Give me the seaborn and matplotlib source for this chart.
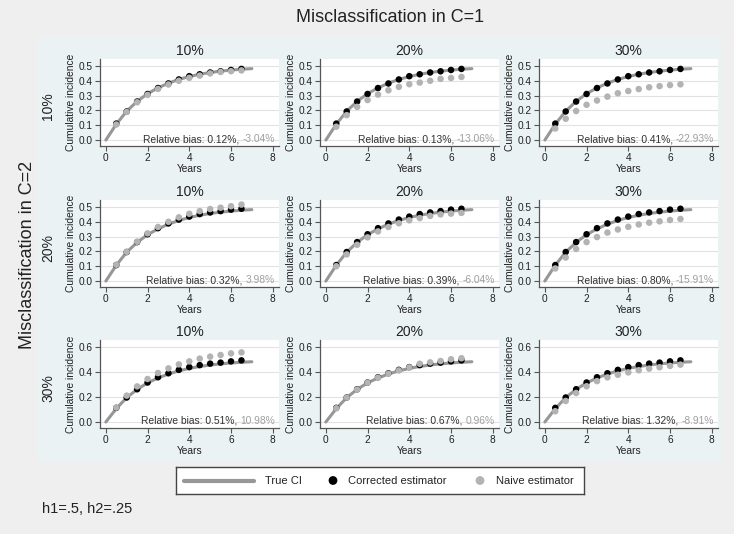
import matplotlib
matplotlib.use("Agg")
import matplotlib.pyplot as plt
import seaborn as sns
from matplotlib.patches import Rectangle

# ---- values ----
years_line = [0, 0.5, 1, 1.5, 2, 2.5, 3, 3.5, 4, 4.5, 5, 5.5, 6, 6.5, 7]
true_ci = [0.0, 0.107, 0.195, 0.261, 0.313, 0.352, 0.384, 0.409, 0.429,
           0.444, 0.456, 0.465, 0.472, 0.478, 0.482]

years_pts = [0.5, 1, 1.5, 2, 2.5, 3, 3.5, 4, 4.5, 5, 5.5, 6, 6.5]

# corrected estimator (black), one list per row of panels
corrected_r1 = [0.111, 0.193, 0.260, 0.311, 0.351, 0.382, 0.409, 0.431, 0.444, 0.456, 0.464, 0.473, 0.480]
corrected_r2 = [0.108, 0.196, 0.263, 0.316, 0.357, 0.389, 0.415, 0.435, 0.452, 0.463, 0.472, 0.482, 0.488]
corrected_r3 = [0.113, 0.196, 0.262, 0.316, 0.358, 0.390, 0.417, 0.439, 0.455, 0.467, 0.475, 0.485, 0.493]

# naive estimator (grey), one list per panel (row = C=2 level, col = C=1 level)
naive_10_10 = [0.105, 0.190, 0.255, 0.305, 0.345, 0.375, 0.400, 0.420, 0.435, 0.450, 0.460, 0.465, 0.470]
naive_10_20 = [0.090, 0.168, 0.224, 0.270, 0.307, 0.336, 0.359, 0.377, 0.388, 0.400, 0.413, 0.419, 0.426]
naive_10_30 = [0.078, 0.144, 0.196, 0.238, 0.267, 0.293, 0.316, 0.331, 0.344, 0.356, 0.364, 0.371, 0.376]
naive_20_10 = [0.110, 0.197, 0.265, 0.322, 0.365, 0.400, 0.430, 0.454, 0.472, 0.486, 0.495, 0.505, 0.516]
naive_20_20 = [0.100, 0.180, 0.245, 0.295, 0.335, 0.365, 0.390, 0.410, 0.425, 0.440, 0.450, 0.455, 0.460]
naive_20_30 = [0.085, 0.159, 0.217, 0.263, 0.297, 0.327, 0.348, 0.366, 0.382, 0.394, 0.403, 0.412, 0.419]
naive_30_10 = [0.115, 0.211, 0.285, 0.344, 0.392, 0.429, 0.461, 0.485, 0.507, 0.523, 0.536, 0.549, 0.557]
naive_30_20 = [0.110, 0.195, 0.260, 0.315, 0.355, 0.387, 0.413, 0.437, 0.466, 0.477, 0.488, 0.502, 0.510]
naive_30_30 = [0.086, 0.168, 0.232, 0.286, 0.327, 0.357, 0.378, 0.397, 0.414, 0.427, 0.438, 0.449, 0.459]

levels = ["10%", "20%", "30%"]
bias_corrected = [["0.12%", "0.13%", "0.41%"],
                  ["0.32%", "0.39%", "0.80%"],
                  ["0.51%", "0.67%", "1.32%"]]
bias_naive = [["-3.04%", "-13.06%", "-22.93%"],
              ["3.98%", "-6.04%", "-15.91%"],
              ["10.98%", "0.96%", "-8.91%"]]

corrected = [corrected_r1, corrected_r2, corrected_r3]
naive = [[naive_10_10, naive_10_20, naive_10_30],
         [naive_20_10, naive_20_20, naive_20_30],
         [naive_30_10, naive_30_20, naive_30_30]]

# ---- styling ----
sns.set_style("white")
plt.rcParams['font.family'] = ['Liberation Sans', 'DejaVu Sans']

W, H = 734, 534
fig = plt.figure(figsize=(W / 100, H / 100), dpi=100, facecolor="#efefef")

# bluish region behind the panels
fig.patches.append(Rectangle((38 / W, 1 - 461 / H), (721 - 38) / W, (461 - 37) / H,
                             transform=fig.transFigure, facecolor="#eaf2f3",
                             edgecolor="none", zorder=-10))

line_col = "#979797"
naive_col = "#b3b3b3"
dark = "#333333"

col_left = [100, 320, 539]
row_top = [59, 200, 340]
row_bot = [146, 287, 428]
ax_w = 179

for r in range(3):
    for c in range(3):
        ax = fig.add_axes([col_left[c] / W, 1 - row_bot[r] / H, ax_w / W,
                           (row_bot[r] - row_top[r]) / H])
        ax.set_facecolor("white")
        sns.lineplot(x=years_line, y=true_ci, ax=ax, color=line_col, lw=2.2, zorder=2)
        sns.scatterplot(x=years_pts, y=corrected[r], ax=ax, color="black", s=22,
                        edgecolor="none", zorder=3)
        sns.scatterplot(x=years_pts, y=naive[r][c], ax=ax, color=naive_col, s=22,
                        edgecolor="none", zorder=4)

        ax.set_xlim(-0.28, 8.3)
        ax.set_xticks([0, 2, 4, 6, 8])
        if r < 2:
            ax.set_ylim(-0.04, 0.547)
            ax.set_yticks([0, 0.1, 0.2, 0.3, 0.4, 0.5])
        else:
            ax.set_ylim(-0.048, 0.656)
            ax.set_yticks([0, 0.2, 0.4, 0.6])
        ax.set_yticklabels([f"{v:.1f}" for v in ax.get_yticks()])
        ax.yaxis.grid(True, color="#e2e2e2", lw=0.8, zorder=0)
        ax.set_axisbelow(True)

        for s in ["top", "right"]:
            ax.spines[s].set_visible(False)
        for s in ["left", "bottom"]:
            ax.spines[s].set_color("#555555")
            ax.spines[s].set_linewidth(0.9)
        ax.tick_params(axis="both", direction="out", length=3.5, width=0.8,
                       color="#555555", labelsize=7.3, labelcolor="#222222", pad=1.5,
                       left=True, bottom=True)

        ax.set_xlabel("Years", fontsize=7.4, color="#222222", labelpad=1)
        ax.set_ylabel("Cumulative incidence", fontsize=7.4, color="#222222", labelpad=2)
        ax.set_title(levels[c], fontsize=10, color="#222222", pad=3)

        # relative bias, two colours
        tg = ax.text(8.1, 0.08, bias_naive[r][c], transform=ax.get_xaxis_transform(),
                     ha="right", va="center", fontsize=7.4, color="#a0a0a0", zorder=5)
        ax.annotate(f"Relative bias: {bias_corrected[r][c]}, ", xy=(0, 0.5),
                    xycoords=tg, ha="right", va="center", fontsize=7.4,
                    color=dark, zorder=5)

    # row label
    fig.text(48 / W, 1 - (row_top[r] + row_bot[r] + 8) / 2 / H, levels[r], rotation=90,
             ha="center", va="center", fontsize=10, color="#222222")

fig.text(390 / W, 1 - 18 / H, "Misclassification in C=1", ha="center", va="center",
         fontsize=13, color="#222222")
fig.text(28 / W, 1 - 255 / H, "Misclassification in C=2", ha="center", va="center",
         rotation=90, fontsize=13, color="#222222")
fig.text(42 / W, 1 - 509 / H, "h1=.5, h2=.25", ha="left", va="center",
         fontsize=10.5, color="#222222")

# legend box
lg = fig.add_axes([176 / W, 1 - 494 / H, 408 / W, 27 / H])
lg.set_xlim(0, 408)
lg.set_ylim(0, 27)
lg.set_facecolor("white")
lg.set_xticks([])
lg.set_yticks([])
for s in lg.spines.values():
    s.set_color("#444444")
    s.set_linewidth(1)
lg.plot([8, 78], [13.5, 13.5], color=line_col, lw=3)
lg.scatter([157], [13.5], s=40, color="black", edgecolor="none")
lg.scatter([304], [13.5], s=40, color=naive_col, edgecolor="none")
lg.text(89, 13.5, "True CI", va="center", fontsize=8, color="#222222")
lg.text(172, 13.5, "Corrected estimator", va="center", fontsize=8, color="#222222")
lg.text(320, 13.5, "Naive estimator", va="center", fontsize=8, color="#222222")

fig.savefig("out.png", dpi=100, facecolor=fig.get_facecolor())
